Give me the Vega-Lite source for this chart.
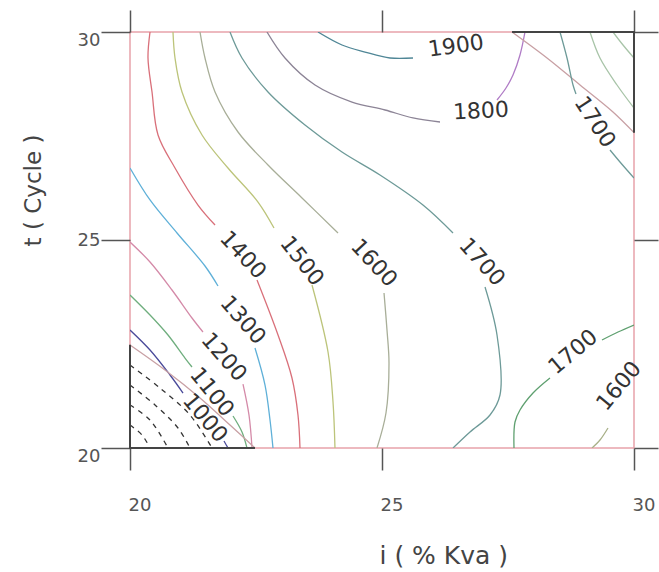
{
  "$schema": "https://vega.github.io/schema/vega-lite/v6.json",
  "width": 504,
  "height": 416,
  "autosize": "none",
  "padding": {"left": 130, "top": 32, "right": 25, "bottom": 124},
  "background": "white",
  "config": {
    "view": {"stroke": "#e8a2aa", "strokeWidth": 1.5},
    "font": "DejaVu Sans",
    "text": {"font": "DejaVu Sans", "fontSize": 22, "color": "#333333", "align": "center", "baseline": "middle"}
  },
  "datasets": {
    "lines": [
      {"s": "1400a", "k": "k1400", "i": 0, "x": 20.397, "y": 30},
      {"s": "1400a", "k": "k1400", "i": 1, "x": 20.357, "y": 29.375},
      {"s": "1400a", "k": "k1400", "i": 2, "x": 20.437, "y": 28.558},
      {"s": "1400a", "k": "k1400", "i": 3, "x": 20.556, "y": 27.524},
      {"s": "1400a", "k": "k1400", "i": 4, "x": 20.893, "y": 26.731},
      {"s": "1400a", "k": "k1400", "i": 5, "x": 21.349, "y": 25.841},
      {"s": "1400a", "k": "k1400", "i": 6, "x": 21.687, "y": 25.361},
      {"s": "1400b", "k": "k1400", "i": 0, "x": 22.52, "y": 24.038},
      {"s": "1400b", "k": "k1400", "i": 1, "x": 22.937, "y": 22.716},
      {"s": "1400b", "k": "k1400", "i": 2, "x": 23.214, "y": 21.683},
      {"s": "1400b", "k": "k1400", "i": 3, "x": 23.333, "y": 20.793},
      {"s": "1400b", "k": "k1400", "i": 4, "x": 23.373, "y": 20},
      {"s": "1500a", "k": "k1500", "i": 0, "x": 20.853, "y": 30},
      {"s": "1500a", "k": "k1500", "i": 1, "x": 20.893, "y": 29.375},
      {"s": "1500a", "k": "k1500", "i": 2, "x": 21.032, "y": 28.558},
      {"s": "1500a", "k": "k1500", "i": 3, "x": 21.429, "y": 27.524},
      {"s": "1500a", "k": "k1500", "i": 4, "x": 21.944, "y": 26.731},
      {"s": "1500a", "k": "k1500", "i": 5, "x": 22.54, "y": 25.913},
      {"s": "1500a", "k": "k1500", "i": 6, "x": 22.857, "y": 25.288},
      {"s": "1500b", "k": "k1500", "i": 0, "x": 23.611, "y": 23.918},
      {"s": "1500b", "k": "k1500", "i": 1, "x": 23.929, "y": 22.308},
      {"s": "1500b", "k": "k1500", "i": 2, "x": 24.028, "y": 21.106},
      {"s": "1500b", "k": "k1500", "i": 3, "x": 24.067, "y": 20},
      {"s": "1600a", "k": "k1600", "i": 0, "x": 21.389, "y": 30},
      {"s": "1600a", "k": "k1600", "i": 1, "x": 21.488, "y": 29.375},
      {"s": "1600a", "k": "k1600", "i": 2, "x": 21.687, "y": 28.558},
      {"s": "1600a", "k": "k1600", "i": 3, "x": 22.143, "y": 27.596},
      {"s": "1600a", "k": "k1600", "i": 4, "x": 22.738, "y": 26.803},
      {"s": "1600a", "k": "k1600", "i": 5, "x": 23.413, "y": 26.01},
      {"s": "1600a", "k": "k1600", "i": 6, "x": 24.127, "y": 25.168},
      {"s": "1600b", "k": "k1600", "i": 0, "x": 25.04, "y": 23.726},
      {"s": "1600b", "k": "k1600", "i": 1, "x": 25.099, "y": 22.837},
      {"s": "1600b", "k": "k1600", "i": 2, "x": 25.139, "y": 22.043},
      {"s": "1600b", "k": "k1600", "i": 3, "x": 25.079, "y": 20.841},
      {"s": "1600b", "k": "k1600", "i": 4, "x": 24.901, "y": 20},
      {"s": "1700a", "k": "k1700", "i": 0, "x": 21.984, "y": 30},
      {"s": "1700a", "k": "k1700", "i": 1, "x": 22.222, "y": 29.375},
      {"s": "1700a", "k": "k1700", "i": 2, "x": 22.738, "y": 28.558},
      {"s": "1700a", "k": "k1700", "i": 3, "x": 23.472, "y": 27.764},
      {"s": "1700a", "k": "k1700", "i": 4, "x": 24.206, "y": 27.115},
      {"s": "1700a", "k": "k1700", "i": 5, "x": 24.96, "y": 26.563},
      {"s": "1700a", "k": "k1700", "i": 6, "x": 25.813, "y": 25.841},
      {"s": "1700a", "k": "k1700", "i": 7, "x": 26.409, "y": 25.168},
      {"s": "1700b", "k": "k1700", "i": 0, "x": 27.044, "y": 23.87},
      {"s": "1700b", "k": "k1700", "i": 1, "x": 27.282, "y": 22.716},
      {"s": "1700b", "k": "k1700", "i": 2, "x": 27.341, "y": 21.274},
      {"s": "1700b", "k": "k1700", "i": 3, "x": 27.143, "y": 20.793},
      {"s": "1700b", "k": "k1700", "i": 4, "x": 26.746, "y": 20.385},
      {"s": "1700b", "k": "k1700", "i": 5, "x": 26.409, "y": 20},
      {"s": "1800a", "k": "k1800", "i": 0, "x": 22.718, "y": 30},
      {"s": "1800a", "k": "k1800", "i": 1, "x": 23.075, "y": 29.375},
      {"s": "1800a", "k": "k1800", "i": 2, "x": 23.671, "y": 28.726},
      {"s": "1800a", "k": "k1800", "i": 3, "x": 24.405, "y": 28.317},
      {"s": "1800a", "k": "k1800", "i": 4, "x": 25.06, "y": 28.125},
      {"s": "1800a", "k": "k1800", "i": 5, "x": 25.615, "y": 27.933},
      {"s": "1800a", "k": "k1800", "i": 6, "x": 26.151, "y": 27.837},
      {"s": "1800b", "k": "k1800p", "i": 0, "x": 27.282, "y": 28.365},
      {"s": "1800b", "k": "k1800p", "i": 1, "x": 27.46, "y": 28.654},
      {"s": "1800b", "k": "k1800p", "i": 2, "x": 27.599, "y": 28.966},
      {"s": "1800b", "k": "k1800p", "i": 3, "x": 27.738, "y": 29.447},
      {"s": "1800b", "k": "k1800p", "i": 4, "x": 27.837, "y": 30},
      {"s": "1900a", "k": "k1900", "i": 0, "x": 23.73, "y": 30},
      {"s": "1900a", "k": "k1900", "i": 1, "x": 24.206, "y": 29.688},
      {"s": "1900a", "k": "k1900", "i": 2, "x": 24.663, "y": 29.519},
      {"s": "1900a", "k": "k1900", "i": 3, "x": 25.159, "y": 29.375},
      {"s": "1900a", "k": "k1900", "i": 4, "x": 25.615, "y": 29.375},
      {"s": "diag1", "k": "kdiag", "i": 0, "x": 27.579, "y": 30},
      {"s": "diag1", "k": "kdiag", "i": 1, "x": 28.274, "y": 29.375},
      {"s": "diag1", "k": "kdiag", "i": 2, "x": 28.929, "y": 28.726},
      {"s": "diag1", "k": "kdiag", "i": 3, "x": 29.583, "y": 28.077},
      {"s": "diag1", "k": "kdiag", "i": 4, "x": 30, "y": 27.58},
      {"s": "1700c", "k": "k1700", "i": 0, "x": 28.532, "y": 30},
      {"s": "1700c", "k": "k1700", "i": 1, "x": 28.671, "y": 29.375},
      {"s": "1700c", "k": "k1700", "i": 2, "x": 28.79, "y": 28.726},
      {"s": "1700c", "k": "k1700", "i": 3, "x": 28.849, "y": 28.51},
      {"s": "1700d", "k": "k1700", "i": 0, "x": 29.524, "y": 27.163},
      {"s": "1700d", "k": "k1700", "i": 1, "x": 29.722, "y": 26.875},
      {"s": "1700d", "k": "k1700", "i": 2, "x": 30, "y": 26.49},
      {"s": "e1", "k": "kgr", "i": 0, "x": 29.127, "y": 30},
      {"s": "e1", "k": "kgr", "i": 1, "x": 29.325, "y": 29.375},
      {"s": "e1", "k": "kgr", "i": 2, "x": 29.663, "y": 28.726},
      {"s": "e1", "k": "kgr", "i": 3, "x": 30, "y": 28.173},
      {"s": "e2", "k": "kgr", "i": 0, "x": 29.583, "y": 30},
      {"s": "e2", "k": "kgr", "i": 1, "x": 29.782, "y": 29.688},
      {"s": "e2", "k": "kgr", "i": 2, "x": 30, "y": 29.375},
      {"s": "1700e", "k": "k1700g", "i": 0, "x": 30, "y": 22.957},
      {"s": "1700e", "k": "k1700g", "i": 1, "x": 29.683, "y": 22.788},
      {"s": "1700e", "k": "k1700g", "i": 2, "x": 29.365, "y": 22.596},
      {"s": "1700f", "k": "k1700g", "i": 0, "x": 28.333, "y": 21.683},
      {"s": "1700f", "k": "k1700g", "i": 1, "x": 27.996, "y": 21.322},
      {"s": "1700f", "k": "k1700g", "i": 2, "x": 27.738, "y": 20.913},
      {"s": "1700f", "k": "k1700g", "i": 3, "x": 27.639, "y": 20.625},
      {"s": "1700f", "k": "k1700g", "i": 4, "x": 27.619, "y": 20},
      {"s": "1600c", "k": "k1600o", "i": 0, "x": 29.167, "y": 20},
      {"s": "1600c", "k": "k1600o", "i": 1, "x": 29.325, "y": 20.192},
      {"s": "1600c", "k": "k1600o", "i": 2, "x": 29.484, "y": 20.481},
      {"s": "1300a", "k": "k1300", "i": 0, "x": 20, "y": 26.731},
      {"s": "1300a", "k": "k1300", "i": 1, "x": 20.397, "y": 25.962},
      {"s": "1300a", "k": "k1300", "i": 2, "x": 20.933, "y": 25.168},
      {"s": "1300a", "k": "k1300", "i": 3, "x": 21.488, "y": 24.375},
      {"s": "1300a", "k": "k1300", "i": 4, "x": 21.746, "y": 23.894},
      {"s": "1300b", "k": "k1300", "i": 0, "x": 22.48, "y": 22.404},
      {"s": "1300b", "k": "k1300", "i": 1, "x": 22.679, "y": 21.514},
      {"s": "1300b", "k": "k1300", "i": 2, "x": 22.778, "y": 20.673},
      {"s": "1300b", "k": "k1300", "i": 3, "x": 22.837, "y": 20},
      {"s": "1200a", "k": "k1200", "i": 0, "x": 20, "y": 24.952},
      {"s": "1200a", "k": "k1200", "i": 1, "x": 20.397, "y": 24.471},
      {"s": "1200a", "k": "k1200", "i": 2, "x": 20.833, "y": 23.798},
      {"s": "1200a", "k": "k1200", "i": 3, "x": 21.23, "y": 23.125},
      {"s": "1200a", "k": "k1200", "i": 4, "x": 21.448, "y": 22.788},
      {"s": "1200b", "k": "k1200", "i": 0, "x": 22.242, "y": 21.538},
      {"s": "1200b", "k": "k1200", "i": 1, "x": 22.361, "y": 20.793},
      {"s": "1200b", "k": "k1200", "i": 2, "x": 22.421, "y": 20},
      {"s": "1100a", "k": "k1100", "i": 0, "x": 20, "y": 23.678},
      {"s": "1100a", "k": "k1100", "i": 1, "x": 20.397, "y": 23.197},
      {"s": "1100a", "k": "k1100", "i": 2, "x": 20.754, "y": 22.716},
      {"s": "1100a", "k": "k1100", "i": 3, "x": 21.091, "y": 22.163},
      {"s": "1100a", "k": "k1100", "i": 4, "x": 21.23, "y": 21.947},
      {"s": "1100b", "k": "k1100", "i": 0, "x": 22.044, "y": 20.769},
      {"s": "1100b", "k": "k1100", "i": 1, "x": 22.222, "y": 20.385},
      {"s": "1100b", "k": "k1100", "i": 2, "x": 22.321, "y": 20},
      {"s": "1000a", "k": "k1000", "i": 0, "x": 20, "y": 22.837},
      {"s": "1000a", "k": "k1000", "i": 1, "x": 20.397, "y": 22.356},
      {"s": "1000a", "k": "k1000", "i": 2, "x": 20.794, "y": 21.755},
      {"s": "1000a", "k": "k1000", "i": 3, "x": 21.052, "y": 21.322},
      {"s": "1000b", "k": "k1000", "i": 0, "x": 21.865, "y": 20.168},
      {"s": "1000b", "k": "k1000", "i": 1, "x": 21.944, "y": 20},
      {"s": "diag2", "k": "kdiag", "i": 0, "x": 20, "y": 22.476},
      {"s": "diag2", "k": "kdiag", "i": 1, "x": 20.694, "y": 21.875},
      {"s": "diag2", "k": "kdiag", "i": 2, "x": 21.389, "y": 21.202},
      {"s": "diag2", "k": "kdiag", "i": 3, "x": 21.984, "y": 20.553},
      {"s": "diag2", "k": "kdiag", "i": 4, "x": 22.48, "y": 20}
    ],
    "edges": [
      {"s": "edgeA", "i": 0, "x": 22.48, "y": 20},
      {"s": "edgeA", "i": 1, "x": 20, "y": 20},
      {"s": "edgeA", "i": 2, "x": 20, "y": 22.48},
      {"s": "edgeB", "i": 0, "x": 27.58, "y": 30},
      {"s": "edgeB", "i": 1, "x": 30, "y": 30},
      {"s": "edgeB", "i": 2, "x": 30, "y": 27.58}
    ],
    "dashes": [
      {"s": "d1", "i": 0, "x": 20, "y": 21.995},
      {"s": "d1", "i": 1, "x": 20.595, "y": 21.442},
      {"s": "d1", "i": 2, "x": 21.19, "y": 20.793},
      {"s": "d1", "i": 3, "x": 21.627, "y": 20},
      {"s": "d2", "i": 0, "x": 20, "y": 21.514},
      {"s": "d2", "i": 1, "x": 20.496, "y": 21.034},
      {"s": "d2", "i": 2, "x": 20.952, "y": 20.481},
      {"s": "d2", "i": 3, "x": 21.19, "y": 20},
      {"s": "d3", "i": 0, "x": 20, "y": 21.034},
      {"s": "d3", "i": 1, "x": 20.397, "y": 20.673},
      {"s": "d3", "i": 2, "x": 20.754, "y": 20},
      {"s": "d4", "i": 0, "x": 20, "y": 20.553},
      {"s": "d4", "i": 1, "x": 20.238, "y": 20.313},
      {"s": "d4", "i": 2, "x": 20.397, "y": 20}
    ],
    "labels": [
      {"k": "l1900", "label": "1900", "x": 26.468, "y": 29.663},
      {"k": "l1800", "label": "1800", "x": 26.964, "y": 28.101},
      {"k": "l1700t", "label": "1700", "x": 29.226, "y": 27.837},
      {"k": "l1400", "label": "1400", "x": 22.242, "y": 24.639},
      {"k": "l1500", "label": "1500", "x": 23.413, "y": 24.495},
      {"k": "l1600", "label": "1600", "x": 24.841, "y": 24.447},
      {"k": "l1700m", "label": "1700", "x": 26.984, "y": 24.471},
      {"k": "l1300", "label": "1300", "x": 22.242, "y": 23.077},
      {"k": "l1200", "label": "1200", "x": 21.865, "y": 22.188},
      {"k": "l1100", "label": "1100", "x": 21.627, "y": 21.346},
      {"k": "l1000", "label": "1000", "x": 21.488, "y": 20.721},
      {"k": "l1700r", "label": "1700", "x": 28.79, "y": 22.308},
      {"k": "l1600r", "label": "1600", "x": 29.702, "y": 21.49}
    ]
  },
  "resolve": {"axis": {"x": "independent", "y": "independent"}},
  "layer": [
    {
      "data": {"name": "lines"},
      "mark": {"type": "line", "strokeWidth": 1.3, "interpolate": "catmull-rom", "clip": true},
      "encoding": {
        "x": {
          "field": "x", "type": "quantitative",
          "scale": {"domain": [20, 30], "nice": false, "zero": false},
          "axis": {
            "orient": "bottom", "values": [20, 25, 30], "domain": false, "grid": false,
            "tickSize": 22, "tickColor": "#555555", "tickWidth": 1.5,
            "labelAlign": "left", "labelBaseline": "top", "labelPadding": 26, "labelOffset": -2,
            "labelFontSize": 18, "labelColor": "#555555", "labelFlush": false, "labelOverlap": false, "labelBound": false,
            "title": "i ( % Kva )", "titleFontSize": 25, "titleFontWeight": "normal", "titleColor": "#444444",
            "titleAlign": "left", "titleBaseline": "alphabetic", "titleX": 249, "titleY": 115
          }
        },
        "y": {
          "field": "y", "type": "quantitative",
          "scale": {"domain": [20, 30], "nice": false, "zero": false},
          "axis": {
            "orient": "left", "values": [20, 25, 30], "domain": false, "grid": false,
            "tickSize": 29, "tickColor": "#555555", "tickWidth": 1.5,
            "labelAlign": "right", "labelBaseline": "middle", "labelPadding": 1,
            "labelOffset": {"condition": {"test": "datum.value === 25", "value": 0}, "value": 8},
            "labelFontSize": 18, "labelColor": "#555555", "labelFlush": false, "labelOverlap": false, "labelBound": false,
            "title": "t ( Cycle )", "titleFontSize": 23, "titleFontWeight": "normal", "titleColor": "#444444",
            "titleAngle": -90, "titleAlign": "center", "titleBaseline": "alphabetic", "titleX": -90, "titleY": 158
          }
        },
        "detail": {"field": "s"},
        "order": {"field": "i", "type": "quantitative"},
        "color": {
          "field": "k", "type": "nominal", "legend": null,
          "scale": {
            "domain": ["k1000", "k1100", "k1200", "k1300", "k1400", "k1500", "k1600", "k1700", "k1800", "k1800p", "k1900", "kdiag", "kgr", "k1700g", "k1600o"],
            "range": ["#4a4a9a", "#6fae7e", "#d48aa8", "#5fb0d8", "#d9707a", "#bcc47a", "#a8ae98", "#6d9a98", "#8c8496", "#b07cc6", "#4f8696", "#c8a0a4", "#a8c4a8", "#5fa070", "#a8b088"]
          }
        }
      }
    },
    {
      "data": {"name": "dashes"},
      "mark": {"type": "line", "strokeWidth": 1.3, "strokeDash": [5, 5], "color": "#333333", "interpolate": "catmull-rom"},
      "encoding": {
        "x": {"field": "x", "type": "quantitative", "axis": null},
        "y": {"field": "y", "type": "quantitative", "axis": null},
        "detail": {"field": "s"},
        "order": {"field": "i", "type": "quantitative"}
      }
    },
    {
      "data": {"name": "edges"},
      "mark": {"type": "line", "strokeWidth": 2, "color": "#444444"},
      "encoding": {
        "x": {
          "field": "x", "type": "quantitative",
          "axis": {"orient": "top", "values": [20, 25, 30], "domain": false, "grid": false, "labels": false, "title": null,
                   "tickSize": 22, "tickColor": "#555555", "tickWidth": 1.5}
        },
        "y": {
          "field": "y", "type": "quantitative",
          "axis": {"orient": "right", "values": [20, 25, 30], "domain": false, "grid": false, "labels": false, "title": null,
                   "tickSize": 24, "tickColor": "#555555", "tickWidth": 1.5}
        },
        "detail": {"field": "s"},
        "order": {"field": "i", "type": "quantitative"}
      }
    },
    {
      "data": {"name": "labels"},
      "transform": [{"filter": "datum.k === 'l1900'"}],
      "mark": {"type": "text", "angle": -8},
      "encoding": {"x": {"field": "x", "type": "quantitative", "axis": null}, "y": {"field": "y", "type": "quantitative", "axis": null}, "text": {"field": "label"}}
    },
    {
      "data": {"name": "labels"},
      "transform": [{"filter": "datum.k === 'l1800'"}],
      "mark": {"type": "text", "angle": -3},
      "encoding": {"x": {"field": "x", "type": "quantitative", "axis": null}, "y": {"field": "y", "type": "quantitative", "axis": null}, "text": {"field": "label"}}
    },
    {
      "data": {"name": "labels"},
      "transform": [{"filter": "datum.k === 'l1700t'"}],
      "mark": {"type": "text", "angle": 57},
      "encoding": {"x": {"field": "x", "type": "quantitative", "axis": null}, "y": {"field": "y", "type": "quantitative", "axis": null}, "text": {"field": "label"}}
    },
    {
      "data": {"name": "labels"},
      "transform": [{"filter": "datum.k === 'l1400' || datum.k === 'l1600'"}],
      "mark": {"type": "text", "angle": 47},
      "encoding": {"x": {"field": "x", "type": "quantitative", "axis": null}, "y": {"field": "y", "type": "quantitative", "axis": null}, "text": {"field": "label"}}
    },
    {
      "data": {"name": "labels"},
      "transform": [{"filter": "datum.k === 'l1500'"}],
      "mark": {"type": "text", "angle": 52},
      "encoding": {"x": {"field": "x", "type": "quantitative", "axis": null}, "y": {"field": "y", "type": "quantitative", "axis": null}, "text": {"field": "label"}}
    },
    {
      "data": {"name": "labels"},
      "transform": [{"filter": "datum.k === 'l1700m'"}],
      "mark": {"type": "text", "angle": 48},
      "encoding": {"x": {"field": "x", "type": "quantitative", "axis": null}, "y": {"field": "y", "type": "quantitative", "axis": null}, "text": {"field": "label"}}
    },
    {
      "data": {"name": "labels"},
      "transform": [{"filter": "datum.k === 'l1300' || datum.k === 'l1200'"}],
      "mark": {"type": "text", "angle": 49},
      "encoding": {"x": {"field": "x", "type": "quantitative", "axis": null}, "y": {"field": "y", "type": "quantitative", "axis": null}, "text": {"field": "label"}}
    },
    {
      "data": {"name": "labels"},
      "transform": [{"filter": "datum.k === 'l1100'"}],
      "mark": {"type": "text", "angle": 51},
      "encoding": {"x": {"field": "x", "type": "quantitative", "axis": null}, "y": {"field": "y", "type": "quantitative", "axis": null}, "text": {"field": "label"}}
    },
    {
      "data": {"name": "labels"},
      "transform": [{"filter": "datum.k === 'l1000'"}],
      "mark": {"type": "text", "angle": 50},
      "encoding": {"x": {"field": "x", "type": "quantitative", "axis": null}, "y": {"field": "y", "type": "quantitative", "axis": null}, "text": {"field": "label"}}
    },
    {
      "data": {"name": "labels"},
      "transform": [{"filter": "datum.k === 'l1700r'"}],
      "mark": {"type": "text", "angle": -40},
      "encoding": {"x": {"field": "x", "type": "quantitative", "axis": null}, "y": {"field": "y", "type": "quantitative", "axis": null}, "text": {"field": "label"}}
    },
    {
      "data": {"name": "labels"},
      "transform": [{"filter": "datum.k === 'l1600r'"}],
      "mark": {"type": "text", "angle": -50},
      "encoding": {"x": {"field": "x", "type": "quantitative", "axis": null}, "y": {"field": "y", "type": "quantitative", "axis": null}, "text": {"field": "label"}}
    }
  ]
}
